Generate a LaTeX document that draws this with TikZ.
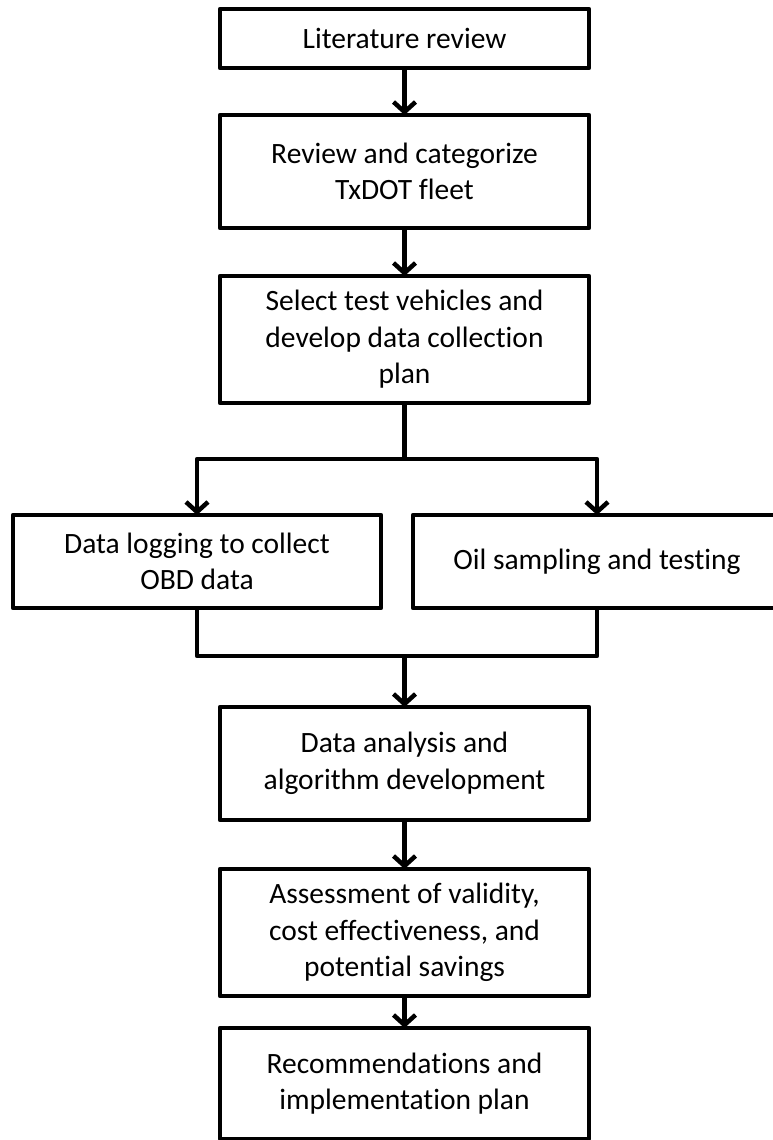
\documentclass[tikz,border=0pt]{standalone}
\usepackage{fontspec}
\setmainfont{Carlito}[Ligatures={NoCommon,NoContextual}]
\usetikzlibrary{arrows.meta}
\tikzset{
  box/.style={draw=black, line width=4.5pt, rectangle, inner sep=0pt, outer sep=0pt,
    align=center, font=\fontsize{29.5}{36.5}\selectfont, text=black, line join=round},
  conn/.style={draw=black, line width=4.5pt, line join=round},
  arr/.style={conn, -{Straight Barb[length=10pt, width=22pt, line width=4.5pt]}}
}
\begin{document}
\begin{tikzpicture}[x=1pt, y=-1pt]
\useasboundingbox (0,0) rectangle (772,1140);
\node[box, minimum width=369pt, minimum height=59pt] (b1) at (404.5,38.5) {Literature review};
\node[box, minimum width=369pt, minimum height=113pt] (b2) at (404.5,171.5) {Review and categorize\\TxDOT fleet};
\node[box, minimum width=369pt, minimum height=127pt] (b3) at (404.5,339.5) {Select test vehicles and\\develop data collection\\plan};
\node[box, minimum width=368pt, minimum height=93pt] (b4) at (197,561.5) {Data logging to collect\\OBD data};
\node[box, minimum width=368pt, minimum height=93pt] (b5) at (597,561.5) {Oil sampling and testing};
\node[box, minimum width=369pt, minimum height=113pt] (b6) at (404.5,763.5) {Data analysis and\\algorithm development};
\node[box, minimum width=369pt, minimum height=127pt] (b7) at (404.5,932.5) {Assessment of validity,\\cost effectiveness, and\\potential savings};
\node[box, minimum width=369pt, minimum height=111pt] (b8) at (404.5,1083.5) {Recommendations and\\implementation plan};
\coordinate (split) at (404.5,459);
\coordinate (merge) at (404.5,656);
\draw[arr] (b1.south) -- (b2.north);
\draw[arr] (b2.south) -- (b3.north);
\draw[conn] (b3.south) -- (split);
\draw[arr] (split) -| (b4.north);
\draw[arr] (split) -| (b5.north);
\draw[conn] (b4.south) |- (merge);
\draw[conn] (b5.south) |- (merge);
\draw[arr] (merge) -- (b6.north);
\draw[arr] (b6.south) -- (b7.north);
\draw[arr] (b7.south) -- (b8.north);
\end{tikzpicture}
\end{document}
